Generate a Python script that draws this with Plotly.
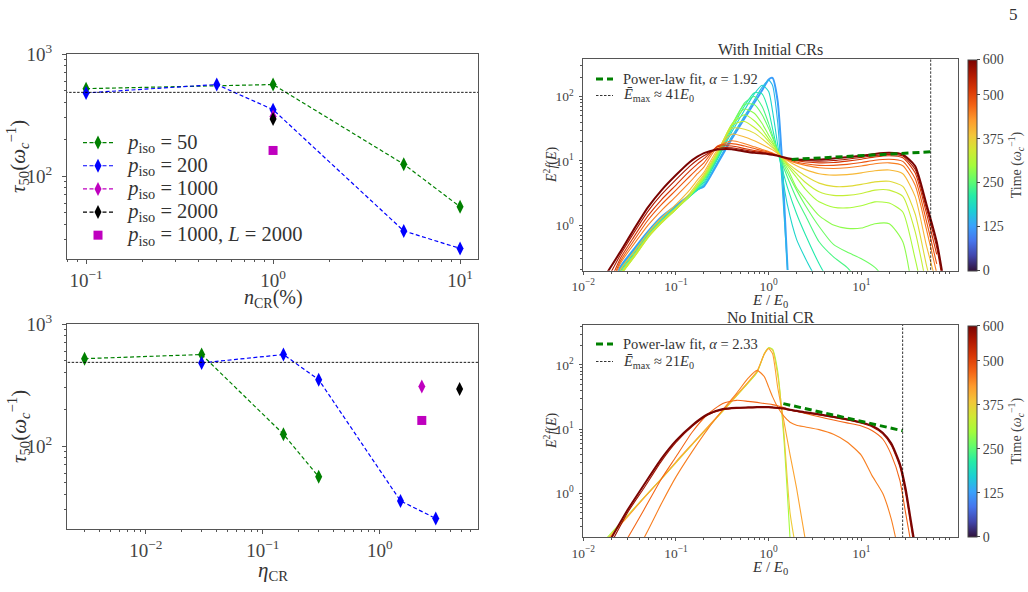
import plotly.graph_objects as go
import plotly.colors as pc

W, H = 1028, 592
FONT = "Liberation Serif"


def px(x):
    return x / W


def py(y):
    return 1 - y / H


# ---------------- Left panels: tau_50 data ----------------
ncr_green = [0.1, 1, 5, 10]
ncr_blue = [0.1, 0.5, 1, 5, 10]
ncr_1000 = [1]
ncr_2000 = [1]
ncr_L = [1]

eta_green = [0.003, 0.03, 0.15, 0.3]
eta_blue = [0.03, 0.15, 0.3, 1.5, 3]
eta_1000 = [2.28]
eta_2000 = [4.8]
eta_L = [2.28]

tau_green = [520, 562, 125, 56]
tau_blue = [480, 562, 350, 35.5, 25.5]
tau_1000 = [307]
tau_2000 = [293]
tau_L = [162]
tau_ref = 485

# ---------------- Right top: with initial CRs ----------------
E_TOP = [0.018, 0.025, 0.035, 0.05, 0.07, 0.1, 0.14, 0.17, 0.2, 0.28, 0.4, 0.55, 0.7, 0.85, 1.0, 1.1,
         1.25, 1.4, 1.6, 2.0, 2.5, 3.5, 5, 7, 10, 14, 20, 28, 38, 50, 65, 80]
N = None
top_t125 = [0.05, 0.22, 0.42, 0.8, 1.35, 2.0, 2.9, 3.6, 4.0, 9.0, 22, 46, 80, 125, 185, 195, 85, 9, 0.2] + [N] * 13
top_t150 = [0.05, 0.21, 0.4, 0.78, 1.3, 1.95, 2.85, 3.5, 4.1, 9.5, 24, 50, 88, 140, 180, 150, 40, 4, 0.2] + [N] * 13
top_t180 = [0.05, 0.2, 0.38, 0.75, 1.25, 1.9, 2.8, 3.5, 4.4, 10.5, 28, 62, 110, 150, 120, 60, 18, 6, 2.0, 0.6,
            0.3, 0.12] + [N] * 10
top_t210 = [0.04, 0.19, 0.36, 0.72, 1.2, 1.85, 2.75, 3.6, 4.7, 11, 31, 72, 115, 110, 60, 32, 14, 7.5, 3.8, 1.5,
            0.7, 0.25, 0.1] + [N] * 9
top_t240 = [0.04, 0.18, 0.34, 0.7, 1.15, 1.8, 2.8, 3.8, 5.0, 11.5, 34, 80, 100, 70, 38, 25, 14, 9, 5.5, 2.6, 1.4,
            0.55, 0.32, 0.22, 0.12] + [N] * 7
top_t265 = [0.04, 0.17, 0.33, 0.68, 1.12, 1.78, 2.8, 3.9, 5.2, 12, 36, 76, 75, 52, 32, 23, 14.5, 10, 6.5, 3.5,
            2.0, 0.95, 0.5, 0.38, 0.3, 0.22, 0.12] + [N] * 5
top_t285 = [0.04, 0.16, 0.32, 0.66, 1.1, 1.76, 2.8, 4.0, 5.4, 12.5, 37, 64, 55, 38, 25, 20, 14, 10.5, 7.5, 3.8,
            2.5, 1.4, 1.0, 0.89, 0.9, 1.05, 1.05, 0.55, 0.05] + [N] * 3
top_t305 = [0.04, 0.16, 0.31, 0.64, 1.08, 1.75, 2.85, 4.1, 5.6, 13, 37, 52, 42, 31, 22, 18.5, 14, 11, 8.3, 5.5,
            3.6, 2.3, 1.9, 1.85, 2.0, 2.3, 2.2, 1.6, 0.3, 0.05] + [N] * 2
top_t330 = [0.04, 0.16, 0.31, 0.64, 1.08, 1.76, 2.9, 4.2, 5.8, 13.5, 36, 41, 33, 26, 20, 17, 13.5, 11, 8.8, 6.3,
            4.6, 3.3, 2.9, 2.9, 3.1, 3.5, 3.5, 2.8, 0.8, 0.12] + [N] * 2
top_t360 = [0.04, 0.17, 0.33, 0.67, 1.13, 1.85, 3.1, 4.5, 6.1, 14, 32, 31, 27, 22, 18, 16, 13.2, 11.2, 9.2, 7.2,
            5.8, 4.5, 4.0, 4.0, 4.3, 4.7, 4.8, 4.0, 1.5, 0.25, 0.05, N]
top_t400 = [0.05, 0.2, 0.38, 0.76, 1.3, 2.1, 3.5, 5.0, 6.6, 15, 26, 23.5, 20.5, 18, 16, 14.8, 13, 11.4, 10, 8.4,
            7.3, 6.3, 6.0, 6.1, 6.5, 7.0, 7.2, 6.3, 2.8, 0.5, 0.12, N]
top_t450 = [0.07, 0.25, 0.5, 1.0, 1.7, 2.8, 4.6, 6.3, 8.0, 16.5, 20.5, 18.5, 16.5, 15, 14, 13.2, 12.2, 11.3, 10.3,
            9.2, 8.5, 7.8, 7.6, 7.8, 8.3, 9.0, 9.3, 8.4, 4.2, 0.9, 0.18, N]
top_t485 = [0.08, 0.27, 0.57, 1.2, 2.1, 3.5, 5.7, 7.5, 9.3, 17, 18.5, 17, 15.5, 14.4, 13.6, 13, 12.1, 11.4, 10.6,
            9.6, 9.0, 8.5, 8.5, 8.8, 9.4, 10.2, 10.6, 9.8, 5.3, 1.2, 0.25, N]
top_t520 = [0.1, 0.3, 0.65, 1.4, 2.5, 4.2, 6.9, 8.9, 10.8, 16.5, 17, 15.5, 14.5, 13.8, 13.2, 12.8, 12.1, 11.5,
            10.8, 10.0, 9.6, 9.3, 9.4, 9.9, 10.6, 11.5, 12.0, 11.2, 6.5, 1.6, 0.35, N]
top_t560 = [0.14, 0.34, 0.75, 1.65, 3.0, 5.1, 8.2, 10.3, 12.0, 15.6, 16, 14.7, 13.9, 13.4, 13.0, 12.6, 12.0, 11.5,
            10.9, 10.2, 10.0, 9.9, 10.1, 10.6, 11.3, 12.1, 12.6, 11.9, 7.4, 1.9, 0.45, 0.08]
top_t600 = [0.18, 0.38, 0.85, 1.9, 3.5, 6.0, 9.5, 11.6, 13.2, 15.0, 15.2, 14.0, 13.3, 13.0, 12.7, 12.4, 12.0, 11.5,
            11.0, 10.5, 10.4, 10.5, 10.9, 11.4, 12.0, 12.8, 13.3, 12.5, 8.3, 2.2, 0.55, 0.1]
TOP_TIMES = [125, 150, 180, 210, 240, 265, 285, 305, 330, 360, 400, 450, 485, 520, 560, 600]
TOP_CURVES = [top_t125, top_t150, top_t180, top_t210, top_t240, top_t265, top_t285, top_t305, top_t330,
              top_t360, top_t400, top_t450, top_t485, top_t520, top_t560, top_t600]
fit_top_E = [1.77, 56]
fit_top_y = [10.5, 13.8]
alpha_top = "1.92"
emax_top_line = 56
emax_top_label = "41"

# ---------------- Right bottom: no initial CR ----------------
E_BOT = [0.015, 0.02, 0.03, 0.045, 0.07, 0.1, 0.15, 0.22, 0.32, 0.45, 0.6, 0.75, 0.9, 1.0, 1.1, 1.25, 1.45, 1.7,
         2.0, 2.5, 3.5, 5, 7, 10, 13, 17, 21, 26, 30, 34, 38]
bot_t300 = [0.15, 0.24, 0.45, 0.86, 1.7, 3.0, 5.8, 10.5, 19, 33, 52, 76, 150, 185, 175, 80, 8, 0.2] + [N] * 13
bot_t380 = [0.14, 0.23, 0.44, 0.85, 1.7, 3.0, 5.8, 10.5, 19, 33, 53, 78, 150, 182, 170, 70, 10, 0.5, 0.12] + [N] * 12
bot_t420 = [0.13, 0.22, 0.43, 0.84, 1.7, 3.1, 5.9, 10.8, 19.5, 34, 54, 80, 148, 178, 150, 45, 14, 4, 1.2,
            0.18] + [N] * 11
bot_t450 = [N, N, 0.08, 0.2, 0.7, 1.8, 4.5, 10, 20, 36, 62, 82, 65, 45, 32, 22, 16, 12.8, 11.5, 10.8, 9.8, 8.3,
            6.3, 3.9, 1.9, 1.0, 0.4, 0.1, N, N, N]
bot_t470 = [N, 0.08, 0.2, 0.55, 1.7, 3.7, 9, 17, 25, 28, 27, 26, 25, 24.5, 24, 23, 21.5, 20, 19, 17.5, 15.5, 13.8,
            12.5, 11.2, 9.5, 7, 4, 1.6, 0.5, 0.18, N]
bot_t570 = [0.09, 0.17, 0.5, 1.2, 3.2, 6.2, 11, 16.5, 20, 21, 21.3, 21.5, 21.5, 21.5, 21.3, 21, 20.5, 19.6, 18.8,
            17.8, 16.6, 15.2, 13.8, 12.3, 10.9, 8.4, 5.6, 2.6, 1.0, 0.33, 0.12]
bot_t600 = [0.1, 0.2, 0.55, 1.35, 3.5, 6.6, 11.5, 17, 20.5, 21.5, 21.8, 22, 22, 22, 21.8, 21.5, 21, 20, 19.2,
            18.2, 17, 15.6, 14.2, 12.7, 11.3, 8.8, 6.0, 2.9, 1.2, 0.4, 0.15]
BOT_TIMES = [300, 380, 420, 450, 470, 570, 600]
BOT_CURVES = [bot_t300, bot_t380, bot_t420, bot_t450, bot_t470, bot_t570, bot_t600]
fit_bot_E = [1.44, 27.9]
fit_bot_y = [24.9, 9.4]
alpha_bot = "2.33"
emax_bot_line = 27.9
emax_bot_label = "21"

T_MAX = 600
CB_TICKS = [0, 125, 250, 375, 500, 600]

# ---------------- Figure ----------------
fig = go.Figure()
GREEN, BLUE, MAG, BLACK = "#008000", "#0000ff", "#bf00bf", "#000000"
LEG_SPAN = '<span style="font-size:20.5px">\u00a0\u00a0{}</span>'
DASH_PTS = "4px,2.5px"


def add_tau(xg, xb, x1, x2, xl, xa, ya, show):
    common = dict(xaxis=xa, yaxis=ya, showlegend=show, legend="legend")
    mk = dict(symbol="diamond-tall", size=10)
    fig.add_trace(go.Scatter(x=xg, y=tau_green, mode="lines+markers",
                             name=LEG_SPAN.format("<i>p</i><sub>iso</sub> = 50"),
                             line=dict(color=GREEN, dash=DASH_PTS, width=1.2),
                             marker=dict(color=GREEN, **mk), **common))
    fig.add_trace(go.Scatter(x=xb, y=tau_blue, mode="lines+markers",
                             name=LEG_SPAN.format("<i>p</i><sub>iso</sub> = 200"),
                             line=dict(color=BLUE, dash=DASH_PTS, width=1.2),
                             marker=dict(color=BLUE, **mk), **common))
    fig.add_trace(go.Scatter(x=x1, y=tau_1000, mode="lines+markers",
                             name=LEG_SPAN.format("<i>p</i><sub>iso</sub> = 1000"),
                             line=dict(color=MAG, dash=DASH_PTS, width=1.2),
                             marker=dict(color=MAG, **mk), **common))
    fig.add_trace(go.Scatter(x=x2, y=tau_2000, mode="lines+markers",
                             name=LEG_SPAN.format("<i>p</i><sub>iso</sub> = 2000"),
                             line=dict(color=BLACK, dash=DASH_PTS, width=1.2),
                             marker=dict(color=BLACK, **mk), **common))
    fig.add_trace(go.Scatter(x=xl, y=tau_L, mode="markers",
                             name=LEG_SPAN.format("<i>p</i><sub>iso</sub> = 1000, <i>L</i> = 2000"),
                             marker=dict(symbol="square", size=9, color=MAG), **common))
    fig.add_trace(go.Scatter(x=[1e-4, 1e3], y=[tau_ref, tau_ref], mode="lines", showlegend=False,
                             line=dict(color=BLACK, dash="2.5px,1.5px", width=0.9), xaxis=xa, yaxis=ya))


add_tau(ncr_green, ncr_blue, ncr_1000, ncr_2000, ncr_L, "x", "y", True)
add_tau(eta_green, eta_blue, eta_1000, eta_2000, eta_L, "x2", "y2", False)

turbo = pc.sequential.Turbo


def add_spectra(E, curves, times, xa, ya):
    for t, yv in zip(times, curves):
        col = pc.sample_colorscale(turbo, [t / T_MAX])[0]
        fig.add_trace(go.Scatter(x=E, y=yv, mode="lines",
                                 line=dict(color=col, width=2.0 if t in (125, 600) else 1.1, shape="spline",
                                           smoothing=0.6),
                                 showlegend=False, hoverinfo="skip", xaxis=xa, yaxis=ya, connectgaps=False))


add_spectra(E_TOP, TOP_CURVES, TOP_TIMES, "x3", "y3")
add_spectra(E_BOT, BOT_CURVES, BOT_TIMES, "x4", "y4")

FIT_DASH = "7px,4px"
EMAX_DASH = "2.5px,1.5px"
legend_rows = []
for (fe, fy, alpha, eline, elab, xa, ya, row_y) in [
        (fit_top_E, fit_top_y, alpha_top, emax_top_line, emax_top_label, "x3", "y3", (79, 95.5)),
        (fit_bot_E, fit_bot_y, alpha_bot, emax_bot_line, emax_bot_label, "x4", "y4", (344, 361.5))]:
    fit_name = "Power-law fit, <i>α</i> = " + alpha
    emax_name = "<i>Ē</i><sub>max</sub> ≈ " + elab + "<i>E</i><sub>0</sub>"
    fig.add_trace(go.Scatter(x=fe, y=fy, mode="lines", name=fit_name, showlegend=False,
                             line=dict(color=GREEN, dash=FIT_DASH, width=3), xaxis=xa, yaxis=ya))
    fig.add_trace(go.Scatter(x=[eline, eline], y=[1e-3, 1e4], mode="lines", name=emax_name, showlegend=False,
                             line=dict(color=BLACK, dash=EMAX_DASH, width=0.8), xaxis=xa, yaxis=ya))
    legend_rows.append((row_y[0], fit_name, GREEN, FIT_DASH, 3))
    legend_rows.append((row_y[1], emax_name, BLACK, EMAX_DASH, 0.8))

# hand-placed legend boxes for the two spectrum panels (matplotlib-style compact rows)
for yrow, label, col, dash, wdt in legend_rows:
    fig.add_shape(type="line", xref="paper", yref="paper", x0=px(596), x1=px(613), y0=py(yrow), y1=py(yrow),
                  line=dict(color=col, width=wdt, dash=dash))
    fig.add_annotation(x=px(621), y=py(yrow), xref="paper", yref="paper", text=label, showarrow=False,
                       xanchor="left", yanchor="middle", font=dict(family=FONT, size=14.5, color="#333"))

# dummy traces for colorbars
fig.add_trace(go.Scatter(x=[1], y=[1], mode="markers", showlegend=False, hoverinfo="skip",
                         marker=dict(color=[0], coloraxis="coloraxis", opacity=0), xaxis="x3", yaxis="y3"))
fig.add_trace(go.Scatter(x=[1], y=[1], mode="markers", showlegend=False, hoverinfo="skip",
                         marker=dict(color=[0], coloraxis="coloraxis2", opacity=0), xaxis="x4", yaxis="y4"))


def minor_vals(lo, hi):
    out = []
    for d in range(lo, hi + 1):
        for m in range(2, 10):
            out.append(m * 10 ** d)
    return out


def sup(e):
    return "10<sup>" + (str(e) if e >= 0 else "−" + str(-e)) + "</sup>"


def axis(domain, rng, tv, anchor, fs, minor_rng, ticklen=4, standoff=0):
    return dict(type="log", domain=domain, range=rng, anchor=anchor, showgrid=False, zeroline=False,
                showline=True, mirror=True, linecolor="#555", linewidth=1, ticks="outside", ticklen=ticklen,
                tickcolor="#555", tickvals=[10 ** e for e in tv], ticktext=[sup(e) for e in tv],
                tickfont=dict(family=FONT, size=fs, color="#444"), automargin=False,
                ticklabelstandoff=standoff,
                minor=dict(ticks="outside", ticklen=2, tickcolor="#555", tickmode="array",
                           tickvals=minor_vals(*minor_rng), showgrid=False))


TL_X = [px(67), px(478)]
TL_Y = [py(259), py(54)]
BL_Y = [py(529), py(324)]
TR_X = [px(583.3), px(958.3)]
TR_Y = [py(270.7), py(59.3)]
BR_Y = [py(537.3), py(325)]

fig.update_layout(
    width=W, height=H, margin=dict(l=0, r=0, t=0, b=0, autoexpand=False),
    paper_bgcolor="white", plot_bgcolor="white",
    font=dict(family=FONT, color="#333"),
    xaxis=axis(TL_X, [-1.102, 1.096], [-1, 0, 1], "y", 19, (-2, 1)),
    yaxis=axis(TL_Y, [1.32, 3], [2, 3], "x", 19, (1, 2), standoff=6),
    xaxis2=axis(TL_X, [-2.673, 0.838], [-2, -1, 0], "y2", 19, (-3, 0)),
    yaxis2=axis(BL_Y, [1.32, 3], [2, 3], "x2", 19, (1, 2), standoff=6),
    xaxis3=axis(TR_X, [-2, 2.046], [-2, -1, 0, 1], "y3", 13.5, (-2, 2), 3),
    yaxis3=axis(TR_Y, [-0.71, 2.58], [0, 1, 2], "x3", 13.5, (-1, 2), 3, standoff=3),
    xaxis4=axis(TR_X, [-2, 2.046], [-2, -1, 0, 1], "y4", 13.5, (-2, 2), 3),
    yaxis4=axis(BR_Y, [-0.685, 2.62], [0, 1, 2], "x4", 13.5, (-1, 2), 3, standoff=3),
    legend=dict(x=px(78), y=py(126), xanchor="left", yanchor="top", bgcolor="rgba(0,0,0,0)",
                font=dict(family=FONT, size=15.5, color="#333"), tracegroupgap=0, itemwidth=30),
)

for name, yc in (("coloraxis", (59.3 + 270.7) / 2), ("coloraxis2", (325 + 537.3) / 2)):
    fig.layout[name] = dict(
        colorscale="Turbo", cmin=0, cmax=T_MAX,
        colorbar=dict(x=px(968.3), xanchor="left", thickness=9.4, len=211.5 / H, lenmode="fraction",
                      y=py(yc), yanchor="middle", xpad=0, ypad=0, outlinewidth=1, outlinecolor="#444",
                      tickvals=CB_TICKS, ticks="outside", ticklen=3, tickcolor="#444",
                      tickfont=dict(family=FONT, size=14, color="#444"),
                      title=dict(text="Time (<i>ω</i><sub><i>c</i></sub><sup>−1</sup>)", side="right",
                                 font=dict(family=FONT, size=14, color="#444"))))

ann = [
    (18, 157, "<i>τ</i><sub>50</sub>(<i>ω</i><sub><i>c</i></sub><sup>−1</sup>)", 21, -90),
    (18, 427, "<i>τ</i><sub>50</sub>(<i>ω</i><sub><i>c</i></sub><sup>−1</sup>)", 21, -90),
    (273, 298, "<i>n</i><sub>CR</sub>(%)", 20, 0),
    (273, 571, "<i>η</i><sub>CR</sub>", 21, 0),
    (550, 165, "<i>E</i><sup>2</sup><i>f</i>(<i>E</i>)", 14, -90),
    (550, 431, "<i>E</i><sup>2</sup><i>f</i>(<i>E</i>)", 14, -90),
    (770, 301, "<i>E</i> / <i>E</i><sub>0</sub>", 15, 0),
    (770, 568, "<i>E</i> / <i>E</i><sub>0</sub>", 15, 0),
    (770, 50, "With Initial CRs", 16, 0),
    (770, 317, "No Initial CR", 16, 0),
    (1013, 15, "5", 17, 0),
]
for x, y, t, s, a in ann:
    fig.add_annotation(x=px(x), y=py(y), xref="paper", yref="paper", text=t, showarrow=False,
                       textangle=a, xanchor="center", yanchor="middle",
                       font=dict(family=FONT, size=s, color="#333"))

fig.write_html("out.html")
